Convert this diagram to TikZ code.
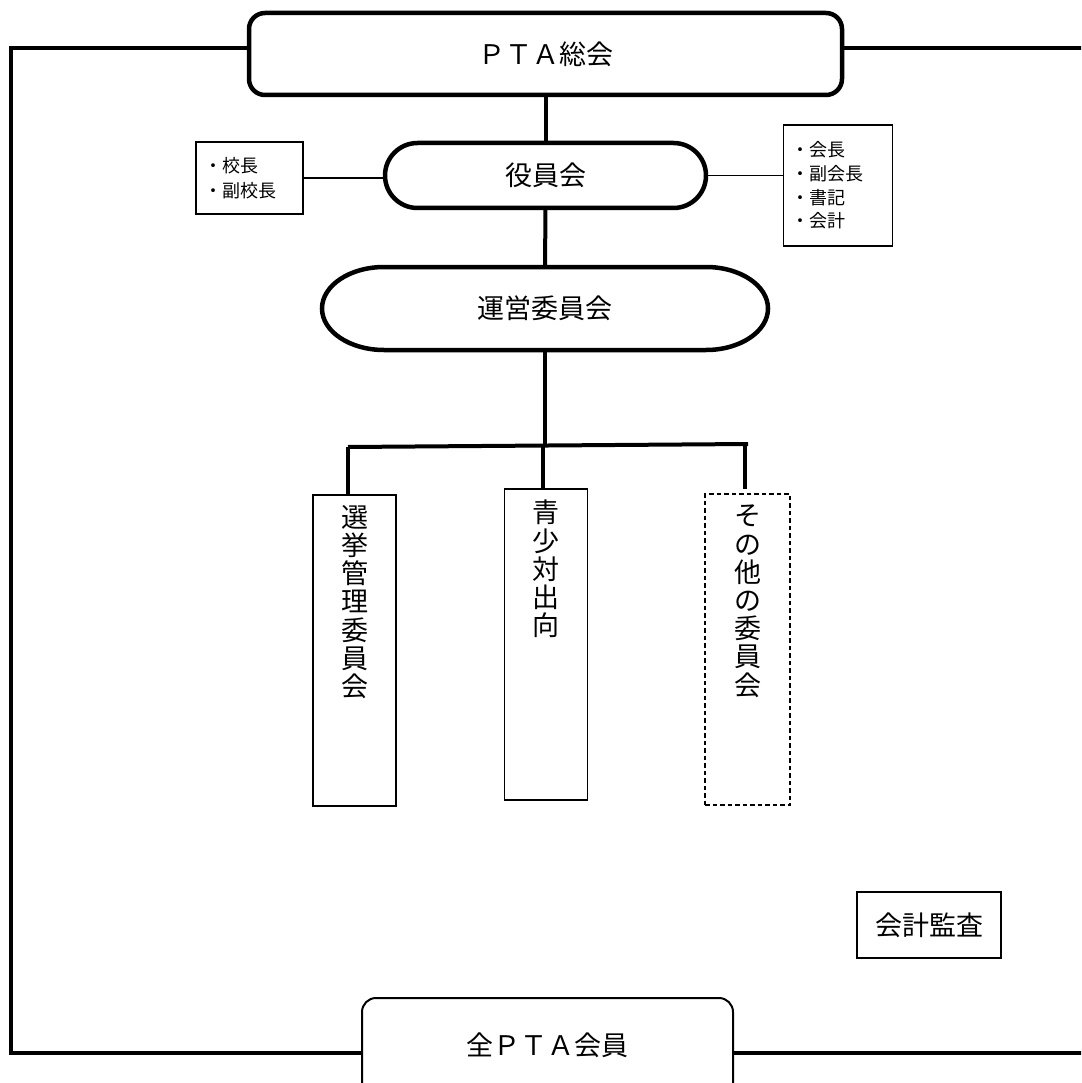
\documentclass[tikz,border=0pt]{standalone}
\usepackage{fontspec}
\setmainfont{Noto Sans CJK JP}
\usetikzlibrary{positioning}
\tikzset{
  heavy/.style={line width=4.5pt},
  link/.style={line width=4pt},
  thinline/.style={line width=1.3pt},
  bigtext/.style={font=\fontsize{27}{30}\selectfont},
  smalltext/.style={font=\fontsize{18}{25}\selectfont},
  headbox/.style={draw, heavy, rounded corners=16pt, bigtext},
  pill/.style={draw, heavy, bigtext, outer sep=0pt},
  listbox/.style={draw, thinline, align=left, inner xsep=8pt, inner ysep=0pt},
  cmtbox/.style={draw, thinline, minimum width=83pt, minimum height=311pt, outer sep=0pt},
  vtext/.style={bigtext, align=center, inner sep=0pt,
    font=\fontsize{27}{28.2}\selectfont},
}

\begin{document}
\begin{tikzpicture}[x=1pt, y=1pt]
    \useasboundingbox (0,0) rectangle (1081,-1083);
    \clip (0,0) rectangle (1081,-1083);
    \fill[white] (0,0) rectangle (1081,-1083);

    % top and bottom of the chart
    \node[headbox, minimum width=593pt, minimum height=82pt] (sokai) at (545.5,-54) {ＰＴＡ総会};
    \node[draw, line width=2pt, rounded corners=14pt, bigtext,
          minimum width=371pt, minimum height=112pt] (zenkai) at (547.5,-1054) {};
    \node[bigtext] (zenkaitext) at (547.5,-1045) {全ＰＴＡ会員};

    % outer frame
    \coordinate (tl) at (11,-48);
    \coordinate (bl) at (11,-1053);
    \coordinate (tr) at (1090,-48);
    \coordinate (br) at (1090,-1053);
    \draw[heavy] (sokai.west |- tl) -- (tl) -- (bl) -- (zenkai.west |- bl);
    \draw[heavy] (sokai.east |- tr) -- (tr);
    \draw[heavy] (zenkai.east |- br) -- (br);

    % officers
    \node[pill, rounded corners=32.5pt, minimum width=321pt, minimum height=65pt] (yakuin) at (545.5,-175.5) {役員会};
    \node[listbox, smalltext, text width=91pt, minimum height=72pt,
          font=\fontsize{18}{25.6}\selectfont] (kocho) at (249.5,-178) {・校長\\・副校長};
    \node[listbox, smalltext, text width=93pt, minimum height=121pt,
          font=\fontsize{18}{23.7}\selectfont] (yaku) at (838,-185.5) {・会長\\・副会長\\・書記\\・会計};
    \draw[thinline] (kocho.east) -- (kocho.east -| yakuin.west);
    \draw[thinline] (yakuin.east) -- (yakuin.east -| yaku.west);

    % steering committee, elliptic ends
    \node[bigtext, minimum width=446pt, minimum height=83pt, outer sep=0pt] (unei) at (545,-308.5) {運営委員会};
    \draw[heavy] ([xshift=62pt]unei.north west) -- ([xshift=-62pt]unei.north east)
      arc[start angle=90, end angle=-90, x radius=62pt, y radius=41.5pt]
      -- ([xshift=62pt]unei.south west)
      arc[start angle=270, end angle=90, x radius=62pt, y radius=41.5pt] -- cycle;

    \draw[link] (sokai.south) -- (yakuin.north);
    \draw[link] (yakuin.south) -- (unei.north);

    % committees
    \node[cmtbox] (senkyo) at (354.5,-650.5) {};
    \node[cmtbox] (seisho) at (546,-644.5) {};
    \node[cmtbox, dash pattern=on 4.5pt off 3pt, minimum width=85pt] (sonota) at (747.5,-649.5) {};
    \node[vtext, below=10pt of senkyo.north] (senkyotext) {選\\挙\\管\\理\\委\\員\\会};
    \node[vtext, below=11pt of seisho.north] (seishotext) {青\\少\\対\\出\\向};
    \node[vtext, below=11pt of sonota.north] (sonotatext) {そ\\の\\他\\の\\委\\員\\会};

    \coordinate (barL) at (348,-447);
    \coordinate (barM) at (545,-445.5);
    \coordinate (barR) at (748,-444);
    \coordinate (dropR) at (745,-489);
    \draw[link] (unei.south) -- (barM);
    \draw[link] (barL) -- (barR);
    \draw[link] (barL) -- (barL |- senkyo.north);
    \draw[link] (seisho.north -| 543,0) -- (543,-446);
    \draw[link] (dropR) -- (dropR |- barR);

    % audit
    \node[draw, thinline, bigtext, minimum width=144pt, minimum height=66pt] (kansa) at (929,-925) {会計監査};
\end{tikzpicture}
\end{document}
